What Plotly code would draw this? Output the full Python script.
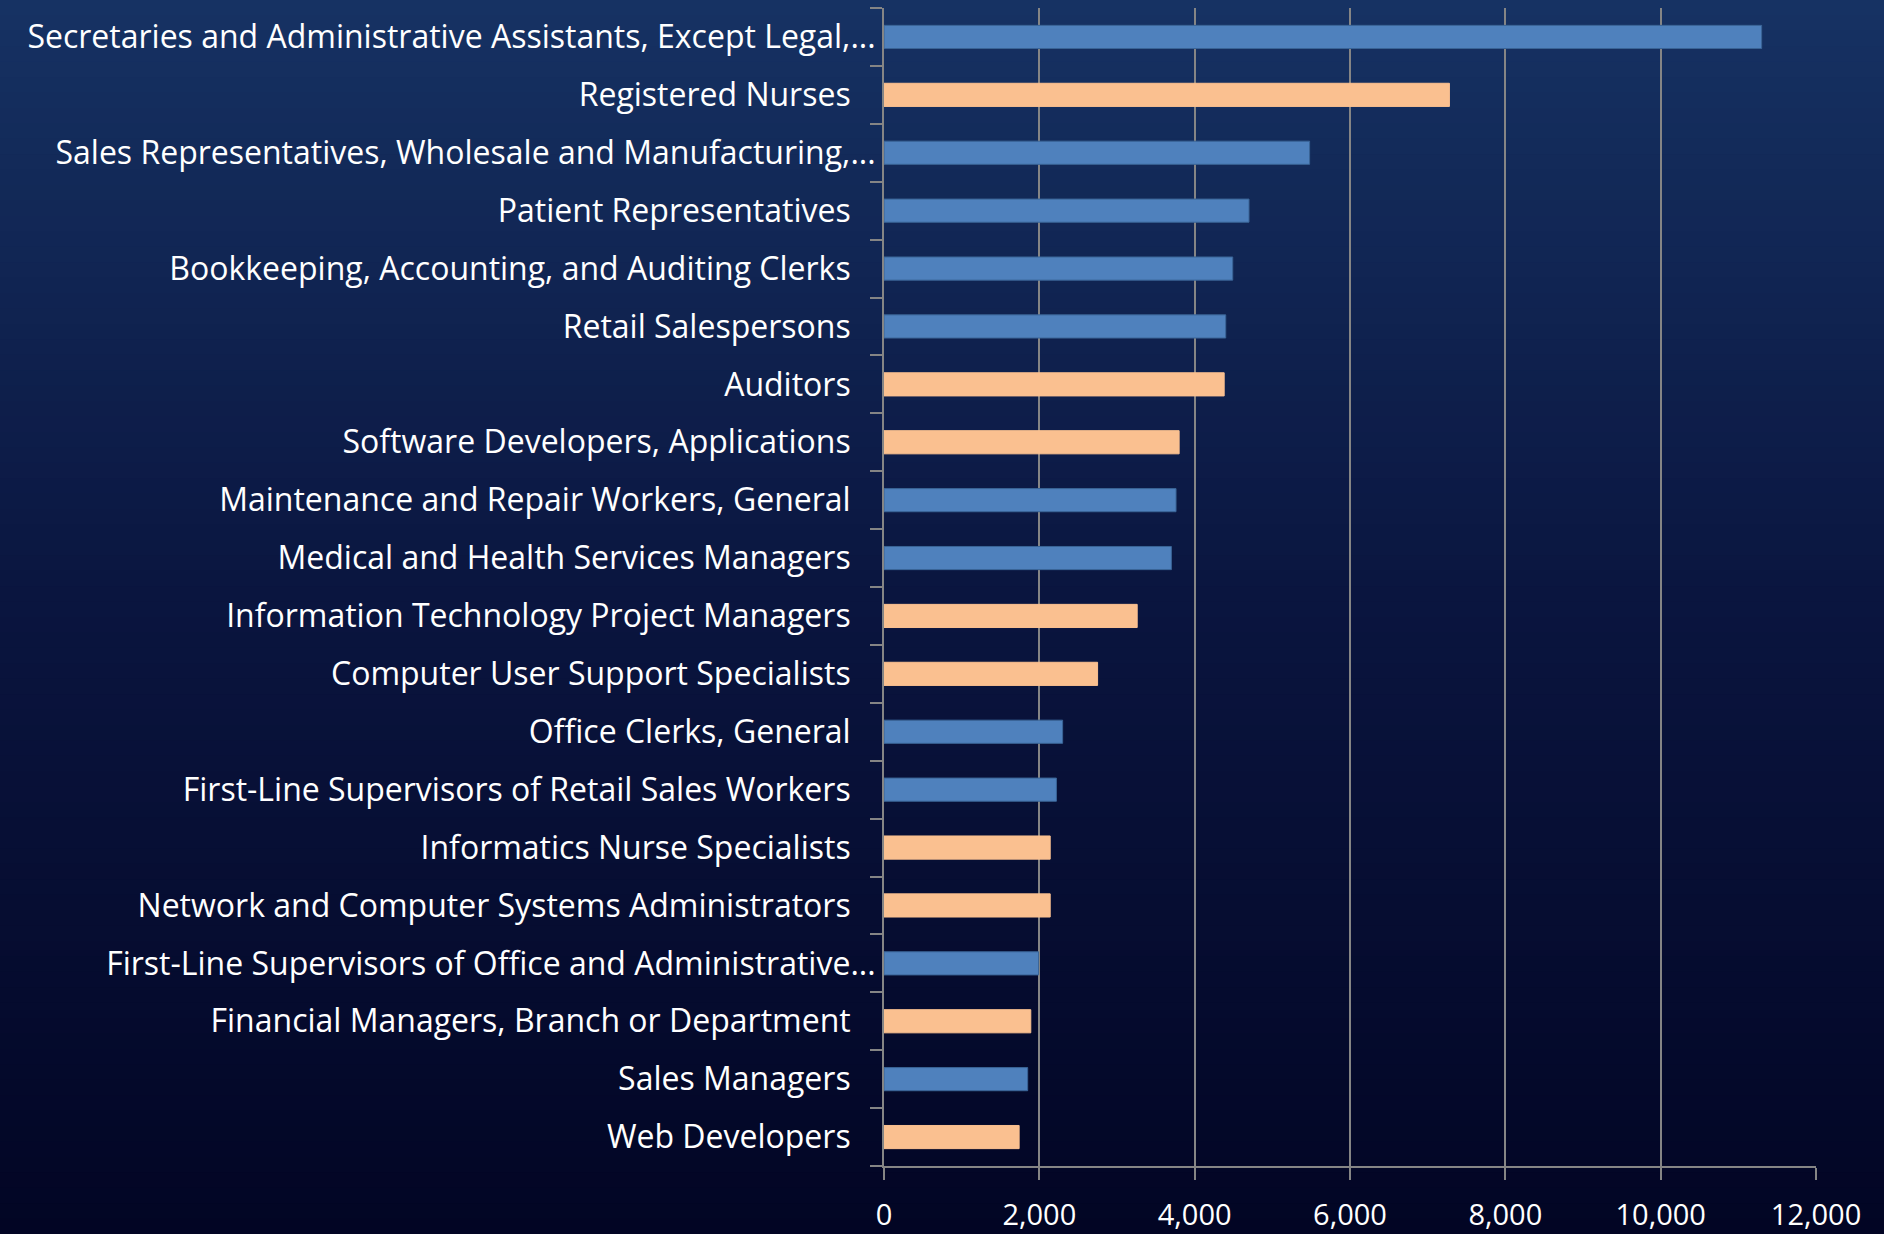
import plotly.graph_objects as go

# ---------------- data ----------------
categories = [
    "Secretaries and Administrative Assistants, Except Legal, Medical, and Executive",
    "Registered Nurses",
    "Sales Representatives, Wholesale and Manufacturing, Except Technical and Scientific Products",
    "Patient Representatives",
    "Bookkeeping, Accounting, and Auditing Clerks",
    "Retail Salespersons",
    "Auditors",
    "Software Developers, Applications",
    "Maintenance and Repair Workers, General",
    "Medical and Health Services Managers",
    "Information Technology Project Managers",
    "Computer User Support Specialists",
    "Office Clerks, General",
    "First-Line Supervisors of Retail Sales Workers",
    "Informatics Nurse Specialists",
    "Network and Computer Systems Administrators",
    "First-Line Supervisors of Office and Administrative Support Workers",
    "Financial Managers, Branch or Department",
    "Sales Managers",
    "Web Developers",
]
tick_labels = [
    "Secretaries and Administrative Assistants, Except Legal,...",
    "Registered Nurses",
    "Sales Representatives, Wholesale and Manufacturing,...",
    "Patient Representatives",
    "Bookkeeping, Accounting, and Auditing Clerks",
    "Retail Salespersons",
    "Auditors",
    "Software Developers, Applications",
    "Maintenance and Repair Workers, General",
    "Medical and Health Services Managers",
    "Information Technology Project Managers",
    "Computer User Support Specialists",
    "Office Clerks, General",
    "First-Line Supervisors of Retail Sales Workers",
    "Informatics Nurse Specialists",
    "Network and Computer Systems Administrators",
    "First-Line Supervisors of Office and Administrative...",
    "Financial Managers, Branch or Department",
    "Sales Managers",
    "Web Developers",
]
values = [11300, 7280, 5480, 4700, 4490, 4400, 4380, 3800, 3760, 3700,
          3260, 2750, 2300, 2220, 2140, 2140, 1990, 1890, 1850, 1740]
groups = ["A", "B", "A", "A", "A", "A", "B", "B", "A", "A",
          "B", "B", "A", "A", "B", "B", "A", "B", "A", "B"]
x_tick_values = [0, 2000, 4000, 6000, 8000, 10000, 12000]
x_tick_labels = ["0", "2,000", "4,000", "6,000", "8,000", "10,000", "12,000"]

# ---------------- styling ----------------
W, H = 1884, 1234
ML, MR, MT, MB = 884, 68, 8, 68
FONT = "Open Sans"
FSIZE = 32
XFSIZE = 29

group_fill = {"A": "#4F81BD", "B": "#FAC090"}
group_edge = {"A": "#3A6496", "B": "#FAC090"}

truncated = [lbl.endswith("...") for lbl in tick_labels]
pad = "\u00a0" * 3
ticktext = [lbl if t else lbl + pad for lbl, t in zip(tick_labels, truncated)]

fig = go.Figure()
fig.add_trace(go.Bar(
    x=values,
    y=categories,
    orientation="h",
    marker=dict(color=[group_fill[g] for g in groups],
                line=dict(color=[group_edge[g] for g in groups], width=1)),
    hovertemplate="%{y}: %{x:,}<extra></extra>",
))

# vertical background gradient
pw = W - ML - MR
ph = H - MT - MB
stops = [(0, (22, 50, 99)), (600, (10, 21, 63)), (1234, (2, 5, 36))]


def col_at(py):
    for (a, ca), (b, cb) in zip(stops[:-1], stops[1:]):
        if a <= py <= b:
            t = (py - a) / (b - a)
            return tuple(round(ca[i] + (cb[i] - ca[i]) * t) for i in range(3))
    return stops[-1][1]


shapes = []
n = 80
for i in range(n):
    top = H * i / n
    bot = H * (i + 1) / n + 1
    c = col_at((top + bot) / 2)
    shapes.append(dict(
        type="rect", xref="paper", yref="paper", layer="below",
        x0=-ML / pw, x1=1 + MR / pw,
        y0=1 - (bot - MT) / ph, y1=1 - (top - MT) / ph,
        fillcolor=f"rgb{c}", line=dict(width=0),
    ))

fig.update_layout(
    width=W, height=H,
    margin=dict(l=ML, r=MR, t=MT, b=MB, autoexpand=False),
    paper_bgcolor="rgb(2,5,36)",
    plot_bgcolor="rgba(0,0,0,0)",
    bargap=0.6,
    showlegend=False,
    font=dict(family=FONT, size=FSIZE, color="white"),
    shapes=shapes,
    xaxis=dict(
        range=[0, 12000],
        tickvals=x_tick_values,
        ticktext=x_tick_labels,
        showgrid=True, gridcolor="#858585", gridwidth=1.5,
        showline=True, linecolor="#858585", linewidth=2,
        ticks="outside", ticklen=12, tickcolor="#858585", tickwidth=1.5,
        zeroline=False, automargin=False,
        ticklabelstandoff=10,
        tickfont=dict(family=FONT, size=XFSIZE, color="white"),
    ),
    yaxis=dict(
        categoryorder="array", categoryarray=categories,
        tickvals=categories, ticktext=ticktext,
        range=[len(categories) - 0.5, -0.5],
        showgrid=False, automargin=False,
        showline=True, linecolor="#858585", linewidth=2,
        ticks="outside", tickson="boundaries", ticklen=12,
        tickcolor="#858585", tickwidth=2,
        ticklabelstandoff=0,
        tickfont=dict(family=FONT, size=FSIZE, color="white"),
    ),
)

fig.write_html(
    "out.html",
    config={"displayModeBar": False},
    post_script="document.body.style.margin='0';"
                "document.documentElement.style.overflow='hidden';"
                "document.body.style.background='rgb(2,5,36)';",
)
